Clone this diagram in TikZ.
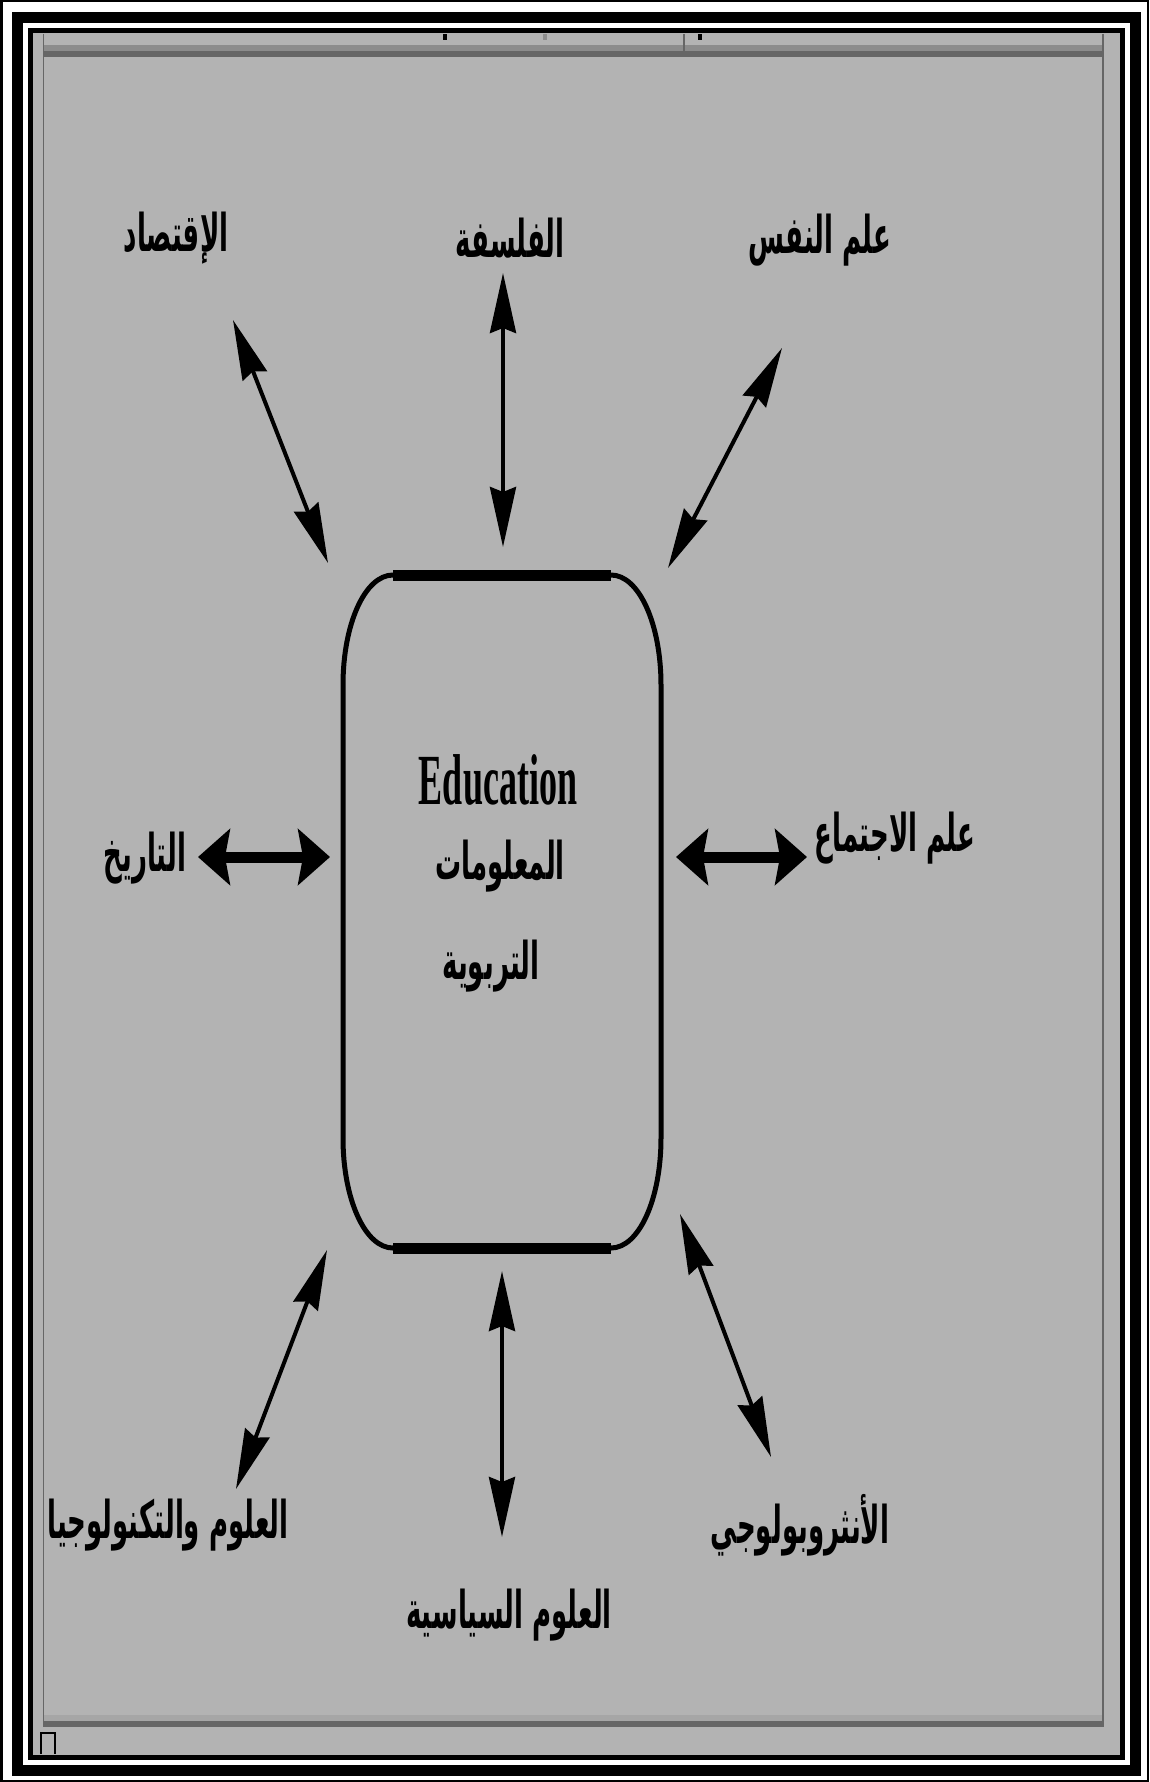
\documentclass[tikz,border=0pt]{standalone}
\usepackage{fontspec}
\usepackage{graphicx}
\usepackage{tikz}
\usetikzlibrary{
  arrows.meta
}

\TeXXeTstate=1
\newfontfamily\arabicfont[Script=Arabic]{DejaVu Sans}
\newfontfamily\latinfont{Liberation Serif}

% tall, narrow lettering
\newcommand{\artext}[1]{\scalebox{1}[2]{\beginR #1\endR}}
\newcommand{\latext}[1]{\scalebox{1}[2]{#1}}

\definecolor{panel}{RGB}{179,179,179}
\definecolor{bandlight}{RGB}{140,140,140}
\definecolor{bandpale}{RGB}{166,166,166}
\definecolor{banddark}{RGB}{102,102,102}

\begin{document}
\begin{tikzpicture}[
  x=1pt, y=-1pt,
  topic/.style={
    inner sep=0pt,
    align=center,
    font=\arabicfont\bfseries\fontsize{26}{30}\selectfont
  },
  title/.style={
    inner sep=0pt,
    font=\latinfont\bfseries\fontsize{36}{40}\selectfont
  },
  link/.style={
    line width=4pt,
    {Stealth[length=60pt,width=26pt,inset=5pt]}-{Stealth[length=60pt,width=26pt,inset=5pt]}
  },
  biglink/.style={
    line width=11pt,
    {Stealth[length=32pt,width=56pt,inset=5pt]}-{Stealth[length=32pt,width=56pt,inset=5pt]}
  }
]
\useasboundingbox (0,0) rectangle (1149,1782);

% Frame (three black rules on white)
\fill[white] (0,0) rectangle (1149,1782);
\draw[line width=2.5pt] (1.25,1.25) rectangle (1147.75,1780.75);
\draw[line width=11pt] (17.5,18) rectangle (1135.5,1770.5);
\draw[line width=5pt] (30.5,30.5) rectangle (1122,1757);
\fill[panel] (33,33) rectangle (1119.5,1754.5);

% Window edges
\fill[bandlight] (43,45) rectangle (1104,51);
\fill[banddark] (43,51) rectangle (1104,57);
\fill[bandpale] (43,1715) rectangle (1104,1721);
\fill[banddark] (43,1721) rectangle (1104,1727);
\draw[banddark, line width=1.5pt] (43.5,34) -- (43.5,1727);
\draw[banddark, line width=2pt] (1103,34) -- (1103,1727);
\fill (443,34) rectangle (447,40);
\fill[bandlight] (543,34) rectangle (547,40);
\fill[banddark] (683,34) rectangle (685,57);
\fill (698,34) rectangle (702,40);
\draw[line width=2.5pt] (41,1754) -- (41,1733) -- (55,1733) -- (55,1754);

% Central box
\draw[line width=5pt] (393,575) -- (611,575)
  .. controls (639,575) and (661,624) .. (661,685) -- (661,1138)
  .. controls (661,1199) and (639,1248) .. (611,1248) -- (393,1248)
  .. controls (365,1248) and (343,1199) .. (343,1138) -- (343,685)
  .. controls (343,624) and (365,575) .. (393,575) -- cycle;
\draw[line width=11pt] (393,575) -- (611,575);
\draw[line width=11pt] (393,1248) -- (611,1248);

\node[title] (edu) at (498,780) {\latext{Education}};
\node[topic] (info) at (500,866) {\artext{المعلومات}};
\node[topic] (edu2) at (491,966) {\artext{التربوية}};

% Surrounding fields
\node[topic] (econ) at (176,238) {\artext{الإقتصاد}};
\node[topic] (philo) at (510,238) {\artext{الفلسفة}};
\node[topic] (psych) at (820,240) {\artext{علم النفس}};
\node[topic] (hist) at (145,858) {\artext{التاريخ}};
\node[topic] (socio) at (895,838) {\artext{علم الاجتماع}};
\node[topic] (scitech) at (168,1525) {\artext{العلوم والتكنولوجيا}};
\node[topic] (anthro) at (800,1525) {\artext{الأنثروبولوجي}};
\node[topic] (polisci) at (509,1615) {\artext{العلوم السياسية}};

% Arrow ends
\coordinate (econ-a) at (233,320);
\coordinate (econ-b) at (328,563);
\coordinate (philo-a) at (503,273);
\coordinate (philo-b) at (503,547);
\coordinate (psych-a) at (782,348);
\coordinate (psych-b) at (668,568);
\coordinate (hist-a) at (198,857);
\coordinate (hist-b) at (330,857);
\coordinate (socio-a) at (676,857);
\coordinate (socio-b) at (807,857);
\coordinate (scitech-a) at (327,1250);
\coordinate (scitech-b) at (236,1489);
\coordinate (polisci-a) at (502,1271);
\coordinate (polisci-b) at (502,1537);
\coordinate (anthro-a) at (680,1214);
\coordinate (anthro-b) at (771,1457);

% Two-way links
\draw[link] (econ-a) -- (econ-b);
\draw[link] (philo-a) -- (philo-b);
\draw[link] (psych-a) -- (psych-b);
\draw[biglink] (hist-a) -- (hist-b);
\draw[biglink] (socio-a) -- (socio-b);
\draw[link] (scitech-a) -- (scitech-b);
\draw[link] (polisci-a) -- (polisci-b);
\draw[link] (anthro-a) -- (anthro-b);

\end{tikzpicture}
\end{document}
